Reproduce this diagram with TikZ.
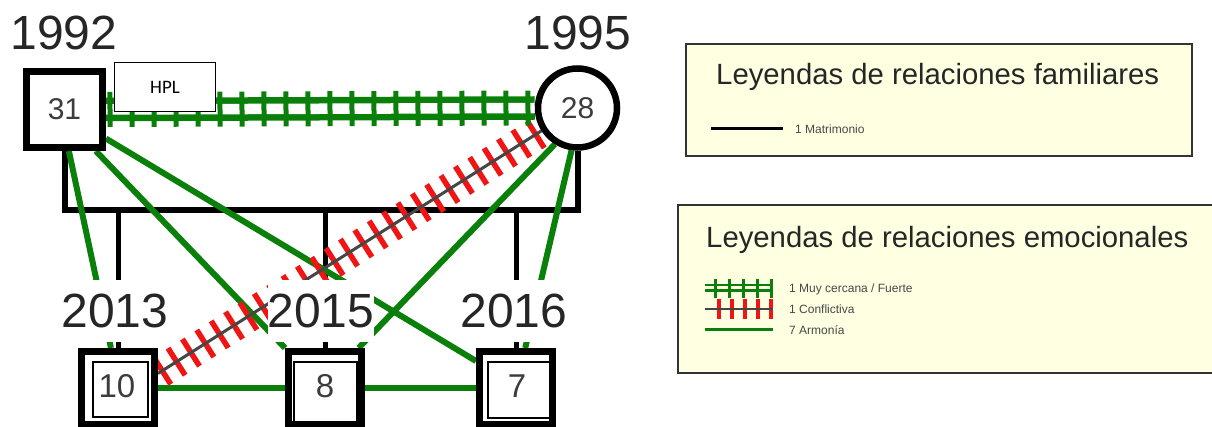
\documentclass[tikz,border=0pt]{standalone}
\usepackage{fontspec}
\setmainfont{Liberation Sans}
\newfontfamily\hplfont{Carlito}
\usetikzlibrary{decorations.markings,backgrounds}
\definecolor{gr}{RGB}{10,128,10}
\definecolor{rd}{RGB}{240,20,20}
\definecolor{legfill}{RGB}{255,255,226}
\definecolor{txt}{RGB}{38,38,38}
\definecolor{numtxt}{RGB}{60,60,60}
\definecolor{midline}{RGB}{70,70,70}
\begin{document}
\begin{tikzpicture}[x=1pt,y=-1pt,
  sqp/.style={rectangle, draw=black, line width=7pt, fill=white, minimum size=76pt, inner sep=0pt, font=\fontsize{30}{31}\selectfont, text=numtxt},
  cip/.style={circle, draw=black, line width=6.5pt, fill=white, minimum size=79pt, inner sep=0pt, font=\fontsize{30}{31}\selectfont, text=numtxt},
  kid/.style={rectangle, draw=black, line width=7pt, fill=white, minimum size=73pt, inner sep=0pt},
  kidin/.style={rectangle, draw=black, line width=2pt, inner sep=0pt},
  num/.style={inner sep=0pt, font=\fontsize{33}{34}\selectfont, text=numtxt},
  year/.style={fill=white, inner xsep=0pt, inner ysep=0pt, text height=48pt, text depth=14pt, anchor=base, font=\fontsize{48}{50}\selectfont, text=txt},
  marriage/.style={draw=black, line width=6pt},
  descent/.style={draw=black, line width=5pt},
  harmony/.style={draw=gr, line width=6pt},
  conflictline/.style={draw=midline, line width=3pt},
  conflictticks/.style={decorate, decoration={markings, mark=between positions 5pt and -3pt step 17pt with {\draw[rd, line width=5.5pt] (0pt,-16pt) -- (0pt,16pt);}}},
  closeline/.style={draw=gr, line width=6.5pt, double=white, double distance=10.5pt},
  closeticks/.style={decorate, decoration={markings, mark=between positions 4pt and -2pt step 22pt with {\draw[gr, line width=5pt] (0pt,-17.5pt) -- (0pt,17.5pt);}}},
  legtitle/.style={anchor=base west, inner sep=0pt, font=\fontsize{29.3}{32}\selectfont, text=txt},
  legtext/.style={anchor=west, inner sep=0pt, font=\fontsize{12}{13}\selectfont, text=txt!85},
  legbox/.style={draw=black!80, line width=1.5pt, fill=legfill}
]
\useasboundingbox (0,0) rectangle (1212,427);

% persons
\node[sqp] (p31) at (64.5,109.5) {31};
\node[cip] (c28) at (577.5,108) {28};
\node[kid] (p10) at (118,388) {};
\node[kid] (p8) at (325,388) {};
\node[kid] (p7) at (516,388) {};
\node[kidin, minimum width=55pt, minimum height=55pt] (p10n) at (120.5,389.5) {};
\node[kidin, minimum width=63pt, minimum height=60pt] (p8n) at (325,392) {};
\node[kidin, minimum width=62pt, minimum height=56pt] (p7n) at (519,390) {};
\node[num] (t10) at (117,386) {10};
\node[num] (t8) at (325,386) {8};
\node[num] (t7) at (517,386) {7};

% year labels
\node[year] (y1992) at (64,50) {1992};
\node[year] (y1995) at (578,50) {1995};
\node[year] (y2013) at (115,328) {2013};
\node[year] (y2015) at (321,328) {2015};
\node[year] (y2016) at (514,328) {2016};

% HPL box
\node[draw=black, line width=1.5pt, fill=white, minimum width=101pt, minimum height=49pt, inner sep=0pt, font=\hplfont\fontsize{19}{20}\selectfont] (hpl) at (165,87) {HPL};

\coordinate (mbar) at (320,210);

\begin{pgfonlayer}{background}
  % family lines
  \draw[marriage] (p31.south) |- (mbar) -| (c28.south);
  \draw[descent] (p10.north) -- (p10.north |- mbar);
  \draw[descent] (p8.north) -- (p8.north |- mbar);
  \draw[descent] (p7.north) -- (p7.north |- mbar);
  % harmony
  \draw[harmony] (p31.-84) -- (p10.100);
  \draw[harmony] (p31.-53) -- (p8.north west);
  \draw[harmony] (p31.-35) -- (p7.146);
  \draw[harmony] (c28.238) -- (p8.50);
  \draw[harmony] (c28.262) -- (p7.77);
  \draw[harmony] (p10.east) -- (p8.west);
  \draw[harmony] (p8.east) -- (p7.west);
  % conflict
  \path[conflictticks] (p10.20) -- (c28);
  \draw[conflictline] (p10.20) -- (c28);
  % very close
  \draw[closeline] (p31.east) -- (c28.west);
  \path[closeticks] (p31.east) -- (c28.west);
\end{pgfonlayer}

% legend 1
\draw[legbox] (686,44) rectangle (1192,156);
\node[legtitle] (lt1) at (716,85) {Leyendas de relaciones familiares};
\draw[black, line width=3pt] (711,129) -- (783,129);
\node[legtext] (lm) at (795,129) {1 Matrimonio};

% legend 2
\draw[legbox] (678,205) rectangle (1225,373);
\node[legtitle] (lt2) at (706,248) {Leyendas de relaciones emocionales};
\draw[gr, line width=2.5pt, double=legfill, double distance=3pt] (705,288) -- (773,288);
\foreach \x in {715,729,743,757,771} \draw[gr, line width=3pt] (\x,279) -- (\x,298);
\node[legtext] (lc) at (789,289) {1 Muy cercana / Fuerte};
\foreach \x in {719,732,745,758,771} \draw[rd, line width=3.5pt] (\x,299) -- (\x,319);
\draw[midline, line width=2pt] (705,309) -- (773,309);
\node[legtext] (lf) at (789,309) {1 Conflictiva};
\draw[gr, line width=3pt] (705,330) -- (773,330);
\node[legtext] (la) at (789,330) {7 Armonía};
\end{tikzpicture}
\end{document}
